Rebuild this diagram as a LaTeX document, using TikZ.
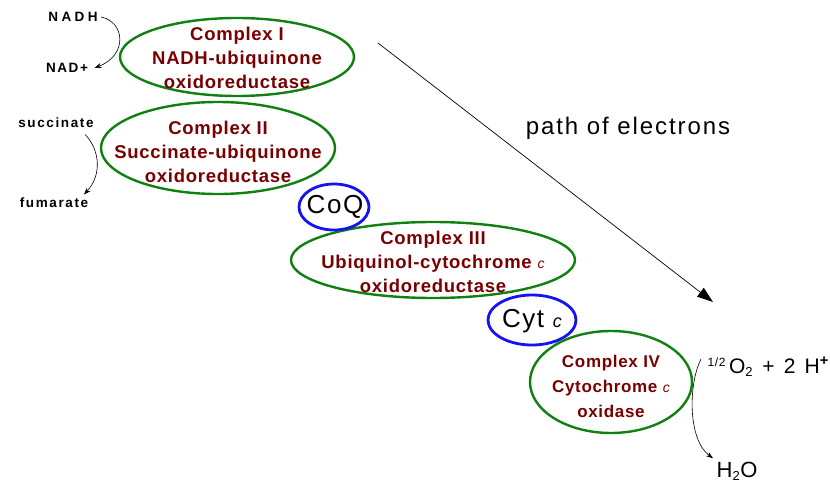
\documentclass[tikz,border=0pt]{standalone}
\usepackage{fontspec}
\setmainfont{Liberation Sans}
\newfontfamily\lsA[LetterSpace=4]{Liberation Sans}
\newfontfamily\lsB[LetterSpace=12]{Liberation Sans}
\newfontfamily\lsC[LetterSpace=25]{Liberation Sans}
\newfontfamily\lsD[LetterSpace=8]{Liberation Sans}
\newfontfamily\lsE[LetterSpace=6]{Liberation Sans}
\newfontfamily\lsF[LetterSpace=16]{Liberation Sans}
\usetikzlibrary{arrows.meta}
\definecolor{cgreen}{RGB}{16,128,16}
\definecolor{cblue}{RGB}{20,20,240}
\definecolor{cred}{RGB}{120,0,0}
\tikzset{
  ctext/.style={text=cred, font=\lsA\bfseries\fontsize{18.5}{24}\selectfont, align=center},
  small/.style={font=\lsB\bfseries\fontsize{13.5}{14}\selectfont},
  curvarrow/.style={draw=black, line width=0.6pt, -{Stealth[length=7pt,width=5pt]}},
}
\newcommand{\ic}{{\mdseries\itshape\fontsize{14}{14}\selectfont c}}
\begin{document}
\begin{tikzpicture}[x=1pt,y=-1pt]
\useasboundingbox (0,0) rectangle (830,492);
% ellipses
\draw[cgreen, line width=2.4pt] (237,57) ellipse [x radius=117, y radius=39];
\draw[cgreen, line width=2.4pt] (218,148) ellipse [x radius=117, y radius=46];
\draw[cgreen, line width=2.4pt] (433,260) ellipse [x radius=142, y radius=38];
\draw[cgreen, line width=2.4pt] (611,382) ellipse [x radius=81, y radius=51];
\draw[cblue, line width=2.8pt] (334,207) ellipse [x radius=35, y radius=23];
\draw[cblue, line width=2.8pt] (532,320) ellipse [x radius=44, y radius=25];
% texts
\node[ctext] (c1) at (237,58) {Complex I\\NADH-ubiquinone\\oxidoreductase};
\node[ctext] (c2) at (218,152) {Complex II\\Succinate-ubiquinone\\oxidoreductase};
\node[ctext] (c3) at (433,262) {Complex III\\Ubiquinol-cytochrome \ic\\oxidoreductase};
\node[ctext, font=\lsA\bfseries\fontsize{17}{25}\selectfont] (c4) at (611,386) {Complex IV\\Cytochrome \ic\\oxidase};
\node[font=\lsE\fontsize{26}{26}\selectfont] (coq) at (335,207) {CoQ};
\node[font=\lsE\fontsize{26}{26}\selectfont] (cyt) at (532,321) {Cyt {\itshape\fontsize{18}{18}\selectfont c}};
\node[font=\lsC\bfseries\fontsize{13.5}{14}\selectfont] (nadh) at (73,17) {NADH};
\node[small] (nad) at (67,68) {NAD+};
\node[small] (succ) at (56,123) {succinate};
\node[small] (fum) at (54,203) {fumarate};
\node[font=\lsD\fontsize{24}{24}\selectfont] (path) at (628,128) {path of electrons};
\node[anchor=west, font=\lsF\fontsize{21}{21}\selectfont] (o2) at (704,367) {\raisebox{7pt}{\lsE\fontsize{12}{12}\selectfont 1/2}\,O\textsubscript{\fontsize{13}{13}\selectfont 2} + 2 H\textsuperscript{\bfseries +}};
\node[font=\lsF\fontsize{22}{22}\selectfont] (h2o) at (737,471) {H\textsubscript{\fontsize{13}{13}\selectfont 2}O};
% arrows
\coordinate (pa) at (378,43);
\coordinate (pb) at (713,302);
\draw[line width=0.7pt, -{Triangle[length=16pt,width=11pt]}] (pa) -- (pb);
\draw[curvarrow] (nadh.east) .. controls (125,22) and (128,55) .. ([xshift=3pt]nad.east);
\draw[curvarrow] (succ.south east) ++(-12,3) .. controls (100,150) and (102,175) .. ([xshift=30pt]fum.north);
\draw[curvarrow] (o2.west) ++(-3,-8) .. controls (688,385) and (688,440) .. ([xshift=-24pt]h2o.north);
\end{tikzpicture}
\end{document}
